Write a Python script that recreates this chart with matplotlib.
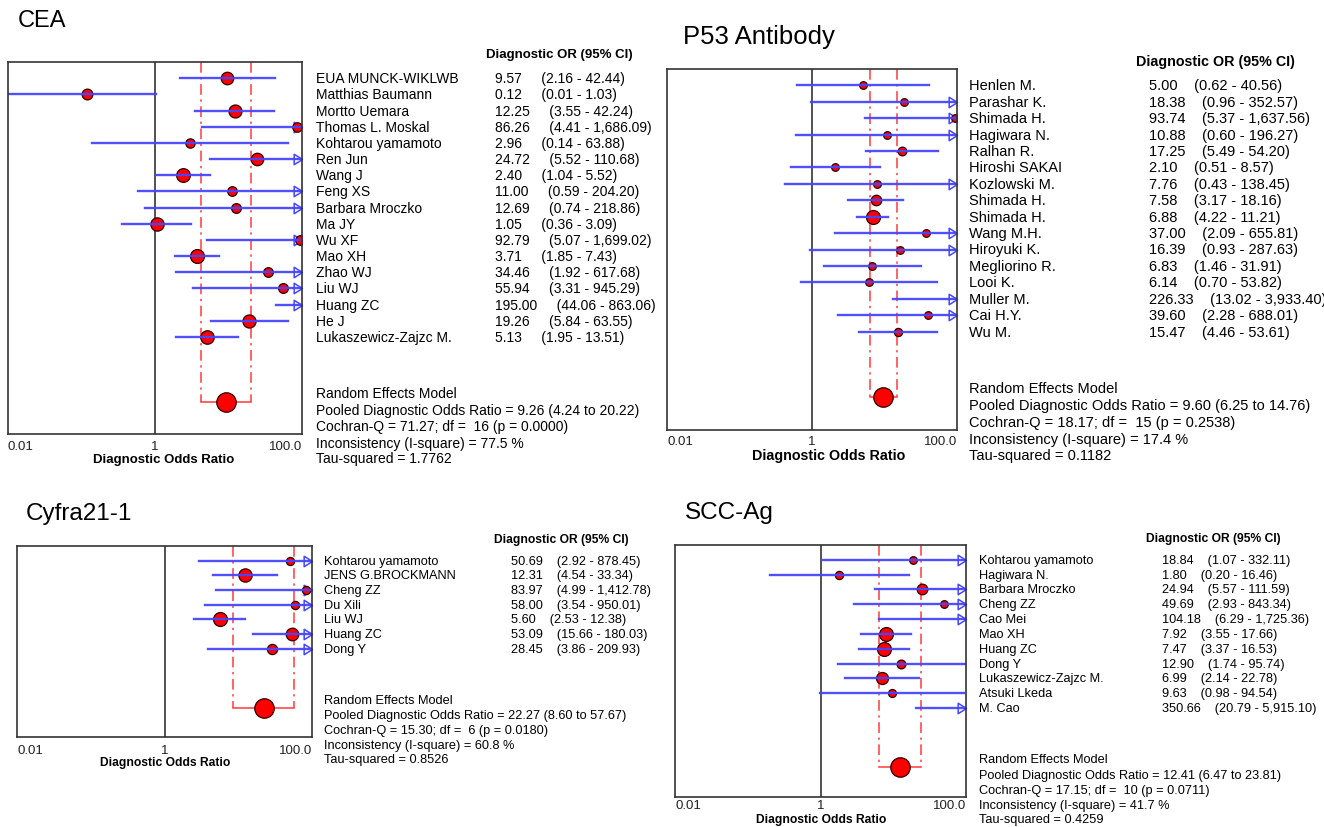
import numpy as np
import matplotlib
matplotlib.use("Agg")
import matplotlib.pyplot as plt
from matplotlib.path import Path
from matplotlib.ticker import NullLocator
from matplotlib.transforms import blended_transform_factory

plt.rcParams['font.family'] = ['Liberation Sans', 'DejaVu Sans']

W, H = 1324, 828

# ---------------- data ----------------
tick_values = [0.01, 1, 100]
tick_labels = ["0.01", "1", "100.0"]

cea_names = ["EUA MUNCK-WIKLWB", "Matthias Baumann", "Mortto Uemara", "Thomas L. Moskal",
             "Kohtarou yamamoto", "Ren Jun", "Wang J", "Feng XS", "Barbara Mroczko", "Ma JY",
             "Wu XF", "Mao XH", "Zhao WJ", "Liu WJ", "Huang ZC", "He J", "Lukaszewicz-Zajzc M."]
cea_or = [9.57, 0.12, 12.25, 86.26, 2.96, 24.72, 2.40, 11.00, 12.69, 1.05,
          92.79, 3.71, 34.46, 55.94, 195.00, 19.26, 5.13]
cea_lo = [2.16, 0.01, 3.55, 4.41, 0.14, 5.52, 1.04, 0.59, 0.74, 0.36,
          5.07, 1.85, 1.92, 3.31, 44.06, 5.84, 1.95]
cea_hi = [42.44, 1.03, 42.24, 1686.09, 63.88, 110.68, 5.52, 204.20, 218.86, 3.09,
          1699.02, 7.43, 617.68, 945.29, 863.06, 63.55, 13.51]
cea_pooled = [9.26, 4.24, 20.22]
cea_q = [71.27, 16, 0.0000]
cea_i2 = 77.5
cea_tau2 = 1.7762

p53_names = ["Henlen M.", "Parashar K.", "Shimada H.", "Hagiwara N.", "Ralhan R.",
             "Hiroshi SAKAI", "Kozlowski M.", "Shimada H.", "Shimada H.", "Wang M.H.",
             "Hiroyuki K.", "Megliorino R.", "Looi K.", "Muller M.", "Cai H.Y.", "Wu M."]
p53_or = [5.00, 18.38, 93.74, 10.88, 17.25, 2.10, 7.76, 7.58, 6.88, 37.00,
          16.39, 6.83, 6.14, 226.33, 39.60, 15.47]
p53_lo = [0.62, 0.96, 5.37, 0.60, 5.49, 0.51, 0.43, 3.17, 4.22, 2.09,
          0.93, 1.46, 0.70, 13.02, 2.28, 4.46]
p53_hi = [40.56, 352.57, 1637.56, 196.27, 54.20, 8.57, 138.45, 18.16, 11.21, 655.81,
          287.63, 31.91, 53.82, 3933.40, 688.01, 53.61]
p53_pooled = [9.60, 6.25, 14.76]
p53_q = [18.17, 15, 0.2538]
p53_i2 = 17.4
p53_tau2 = 0.1182

cyf_names = ["Kohtarou yamamoto", "JENS G.BROCKMANN", "Cheng ZZ", "Du Xili",
             "Liu WJ", "Huang ZC", "Dong Y"]
cyf_or = [50.69, 12.31, 83.97, 58.00, 5.60, 53.09, 28.45]
cyf_lo = [2.92, 4.54, 4.99, 3.54, 2.53, 15.66, 3.86]
cyf_hi = [878.45, 33.34, 1412.78, 950.01, 12.38, 180.03, 209.93]
cyf_pooled = [22.27, 8.60, 57.67]
cyf_q = [15.30, 6, 0.0180]
cyf_i2 = 60.8
cyf_tau2 = 0.8526

scc_names = ["Kohtarou yamamoto", "Hagiwara N.", "Barbara Mroczko", "Cheng ZZ", "Cao Mei",
             "Mao XH", "Huang ZC", "Dong Y", "Lukaszewicz-Zajzc M.", "Atsuki Lkeda", "M. Cao"]
scc_or = [18.84, 1.80, 24.94, 49.69, 104.18, 7.92, 7.47, 12.90, 6.99, 9.63, 350.66]
scc_lo = [1.07, 0.20, 5.57, 2.93, 6.29, 3.55, 3.37, 1.74, 2.14, 0.98, 20.79]
scc_hi = [332.11, 16.46, 111.59, 843.34, 1725.36, 17.66, 16.53, 95.74, 22.78, 94.54, 5915.10]
scc_pooled = [12.41, 6.47, 23.81]
scc_q = [17.15, 10, 0.0711]
scc_i2 = 41.7
scc_tau2 = 0.4259

BLUE = "#4646ff"
RED = "#ff0000"
DASH = "#ff3b3b"

# arrow head with its tip at the data point
arrow = Path([(0, 0), (-1, 0.625), (-1, -0.625), (0, 0)],
             [Path.MOVETO, Path.LINETO, Path.LINETO, Path.CLOSEPOLY])

fig = plt.figure(figsize=(W / 100, H / 100), dpi=100)


def panel(box, title, title_xy, title_fs, names, ors, los, his, pooled, q, i2, tau2,
          names_x, vals_x, hdr_x, fs, bfs, gap, xlab_xy, tpad):
    x0, y0, x1, y1 = box
    ax = fig.add_axes([x0 / W, 1 - y1 / H, (x1 - x0) / W, (y1 - y0) / H])
    n = len(names)
    prow = n + 3
    ax.set_xscale("log")
    ax.set_xlim(tick_values[0], tick_values[-1])
    ax.set_ylim(n + 5, -1)
    ax.set_yticks([])
    ax.xaxis.set_minor_locator(NullLocator())
    ax.set_xticks(tick_values)
    ax.set_xticklabels(tick_labels, fontsize=9.5, color="#222222")
    ax.tick_params(axis="x", length=0, pad=tpad)
    labs = ax.get_xticklabels()
    labs[0].set_ha("left")
    labs[-1].set_ha("right")
    for s in ax.spines.values():
        s.set_color("#333333")
        s.set_linewidth(1.2)
        s.set_zorder(10)

    ax.axvline(1, color="#222222", lw=1.1, zorder=1)

    # pooled bracket
    p, plo, phi = pooled
    for xv in (plo, phi):
        ax.plot([xv, xv], [-1, prow], color=DASH, lw=1.1, ls=(0, (7, 3, 1.5, 3)), zorder=2)
    ax.plot([plo, phi], [prow, prow], color=DASH, lw=1.1, zorder=2)
    ax.plot(p, prow, "o", ms=14, mfc=RED, mec="#300000", mew=0.9, zorder=6)

    # study weights -> marker size
    lo_a = np.array(los)
    hi_a = np.array(his)
    se = (np.log(hi_a) - np.log(lo_a)) / (2 * 1.96)
    w = 1 / (se ** 2 + tau2)
    msz = 10 * np.sqrt(w / w.max())

    for i in range(n):
        if his[i] > tick_values[-1]:
            ax.plot(tick_values[-1], i, marker=arrow, ms=12, mfc="white", mec=BLUE,
                    mew=1.1, clip_on=False, zorder=3)
        if ors[i] <= tick_values[-1]:
            ax.plot(ors[i], i, "o", ms=max(msz[i], 5.5), mfc=RED, mec="#300000",
                    mew=0.9, zorder=4)
        ax.plot([los[i], his[i]], [i, i], color=BLUE, lw=1.7, zorder=5, alpha=0.95)

    ax.set_xlabel("Diagnostic Odds Ratio", fontsize=bfs, fontweight="bold", va="center")
    ax.xaxis.set_label_coords((xlab_xy[0] - x0) / (x1 - x0), (y1 - xlab_xy[1]) / (y1 - y0))

    tr = blended_transform_factory(fig.transFigure, ax.transData)
    fig.text(title_xy[0] / W, 1 - title_xy[1] / H, title, fontsize=title_fs, va="center")
    ax.text(hdr_x / W, -1.5, "Diagnostic OR (95% CI)", transform=tr, fontsize=bfs,
            fontweight="bold", va="center")
    sp = " " * gap
    for i in range(n):
        ax.text(names_x / W, i, names[i], transform=tr, fontsize=fs, va="center")
        ax.text(vals_x / W, i, f"{ors[i]:,.2f}{sp}({los[i]:,.2f} - {his[i]:,.2f})",
                transform=tr, fontsize=fs, va="center")

    lines = ["Random Effects Model",
             f"Pooled Diagnostic Odds Ratio = {p:.2f} ({plo:.2f} to {phi:.2f})",
             f"Cochran-Q = {q[0]:.2f}; df =  {q[1]} (p = {q[2]:.4f})",
             f"Inconsistency (I-square) = {i2:.1f} %",
             f"Tau-squared = {tau2:.4f}"]
    for k, off in enumerate([-0.55, 0.5, 1.5, 2.55, 3.5]):
        ax.text(names_x / W, prow + off, lines[k], transform=tr, fontsize=fs, va="center")
    return ax


panel((8, 63, 302, 435), "CEA", (18, 21), 17, cea_names, cea_or, cea_lo, cea_hi,
      cea_pooled, cea_q, cea_i2, cea_tau2, 316, 495, 486, 10, 9.5, 5, (163.5, 460), 4.3)
panel((667, 70, 957, 431), "P53 Antibody", (683, 37), 18.5, p53_names, p53_or, p53_lo, p53_hi,
      p53_pooled, p53_q, p53_i2, p53_tau2, 969, 1149, 1136, 10.5, 10.3, 4, (828.5, 456), 3.6)
panel((17, 547, 312, 738), "Cyfra21-1", (26, 514), 17.5, cyf_names, cyf_or, cyf_lo, cyf_hi,
      cyf_pooled, cyf_q, cyf_i2, cyf_tau2, 324, 511, 494, 9.2, 8.7, 4, (165, 763), 5)
panel((675, 546, 966, 798), "SCC-Ag", (685, 513), 17.5, scc_names, scc_or, scc_lo, scc_hi,
      scc_pooled, scc_q, scc_i2, scc_tau2, 979, 1162, 1146, 9.2, 8.7, 4, (821.5, 820), 1.8)

fig.savefig("out.png", dpi=100)
